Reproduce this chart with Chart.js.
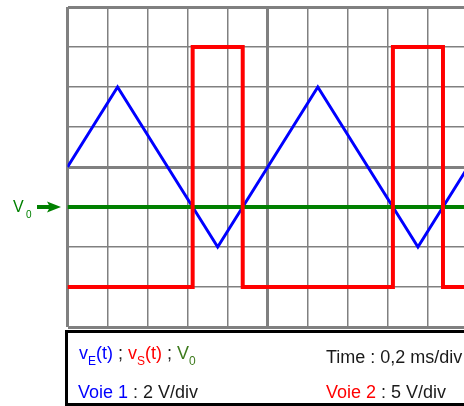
<!DOCTYPE html>
<html>
<head>
<meta charset="utf-8">
<script src="https://cdn.jsdelivr.net/npm/chart.js@4"></script>
<style>
  html, body { margin: 0; padding: 0; background: #ffffff; overflow: hidden; }
  #wrap { width: 464px; height: 406px; overflow: hidden; position: relative; }
  canvas { display: block; }
</style>
</head>
<body>
<div id="wrap"><canvas id="c" width="480" height="406"></canvas></div>
<script>
// ---- Data (time in ms, voltages in V) ----
const timeTicks = [0, 0.2, 0.4, 0.6, 0.8, 1.0, 1.2, 1.4, 1.6, 1.8, 2.0]; // 0,2 ms/div
const tE = [0, 0.25, 0.75, 1.25, 1.75, 2.0];          // vE(t) vertices
const vE = [0, 4, -4, 4, -4, 0];                       // Voie 1 (2 V/div)
const tS = [0, 0.625, 0.625, 0.875, 0.875, 1.625, 1.625, 1.875, 1.875, 2.0];
const vS = [-15, -15, 15, 15, -15, -15, 15, 15, -15, -15]; // Voie 2 (5 V/div)
const tV0 = [0, 2.0];
const V0 = [-2, -2];                                   // V0 on Voie 1
const ch1Range = [-8, 8];   // 8 div x 2 V/div
const ch2Range = [-20, 20]; // 8 div x 5 V/div

const BLUE = '#0000ff', RED = '#ff0000', GREEN = '#008000', OLIVE = '#3d7a1c', GRID = '#808080';

const pts = (xs, ys) => xs.map((x, i) => ({ x: x, y: ys[i] }));

const gridWidth = (c) => {
  const n = c.scale.ticks.length - 1;
  const mid = n / 2;
  return (c.index === 0 || c.index === n || c.index === mid) ? 3 : 1.5;
};

const overlay = {
  id: 'overlay',
  afterDraw(chart) {
    const ctx = chart.ctx;
    const y0 = chart.scales.y.getPixelForValue(V0[0]);
    ctx.save();
    // V0 label + arrow
    ctx.fillStyle = GREEN;
    ctx.strokeStyle = GREEN;
    ctx.font = '16px "Liberation Sans", Arial, sans-serif';
    ctx.textBaseline = 'alphabetic';
    ctx.fillText('V', 13, y0 + 5);
    ctx.font = '10px "Liberation Sans", Arial, sans-serif';
    ctx.fillText('0', 26, y0 + 11);
    ctx.lineWidth = 4;
    ctx.beginPath();
    ctx.moveTo(37, y0);
    ctx.lineTo(50, y0);
    ctx.stroke();
    ctx.beginPath();
    ctx.moveTo(47, y0 - 5.5);
    ctx.lineTo(61, y0);
    ctx.lineTo(47, y0 + 5.5);
    ctx.lineTo(50, y0);
    ctx.closePath();
    ctx.fill();

    // info box
    ctx.strokeStyle = '#000000';
    ctx.lineWidth = 3;
    ctx.strokeRect(66.5, 331.5, 500, 73);

    const main = '18px "Liberation Sans", Arial, sans-serif';
    const sub = '12px "Liberation Sans", Arial, sans-serif';
    const segs = [
      { t: 'v', c: BLUE }, { t: 'E', c: BLUE, s: 1 }, { t: '(t)', c: BLUE },
      { t: ' ; ', c: '#1a1a1a' },
      { t: 'v', c: RED }, { t: 'S', c: RED, s: 1 }, { t: '(t)', c: RED },
      { t: ' ; ', c: '#1a1a1a' },
      { t: 'V', c: OLIVE }, { t: '0', c: OLIVE, s: 1 }
    ];
    let x = 79;
    const base1 = 359;
    segs.forEach(sg => {
      ctx.font = sg.s ? sub : main;
      ctx.fillStyle = sg.c;
      ctx.fillText(sg.t, x, sg.s ? base1 + 6 : base1);
      x += ctx.measureText(sg.t).width;
    });
    ctx.font = main;
    ctx.fillStyle = '#1a1a1a';
    ctx.fillText('Time : 0,2 ms/div', 326, 363);

    const base2 = 398;
    const drawRow = (xs, parts) => {
      let xx = xs;
      parts.forEach(p => {
        ctx.fillStyle = p.c;
        ctx.fillText(p.t, xx, base2);
        xx += ctx.measureText(p.t).width;
      });
    };
    drawRow(78, [{ t: 'Voie 1', c: BLUE }, { t: ' : 2 V/div', c: '#1a1a1a' }]);
    drawRow(326, [{ t: 'Voie 2', c: RED }, { t: ' : 5 V/div', c: '#1a1a1a' }]);
    ctx.restore();
  }
};

new Chart(document.getElementById('c'), {
  type: 'line',
  data: {
    datasets: [
      { label: 'vS(t)', data: pts(tS, vS), yAxisID: 'y2', borderColor: RED, borderWidth: 4 },
      { label: 'V0', data: pts(tV0, V0), yAxisID: 'y', borderColor: GREEN, borderWidth: 4 },
      { label: 'vE(t)', data: pts(tE, vE), yAxisID: 'y', borderColor: BLUE, borderWidth: 3 }
    ]
  },
  options: {
    responsive: false,
    animation: false,
    parsing: true,
    elements: {
      point: { radius: 0, hoverRadius: 0 },
      line: { tension: 0, fill: false, borderCapStyle: 'butt', borderJoinStyle: 'miter' }
    },
    layout: { padding: { left: 67.5, top: 7, right: 12, bottom: 79 } },
    plugins: { legend: { display: false }, tooltip: { enabled: false } },
    scales: {
      x: {
        type: 'linear',
        min: timeTicks[0],
        max: timeTicks[timeTicks.length - 1],
        afterBuildTicks: (s) => { s.ticks = timeTicks.map(v => ({ value: v })); },
        ticks: { display: false },
        grid: { color: GRID, lineWidth: gridWidth, drawTicks: false },
        border: { display: false }
      },
      y: {
        type: 'linear',
        min: ch1Range[0],
        max: ch1Range[1],
        ticks: { display: false, stepSize: 2 },
        grid: { color: GRID, lineWidth: gridWidth, drawTicks: false },
        border: { display: false }
      },
      y2: {
        type: 'linear',
        display: false,
        min: ch2Range[0],
        max: ch2Range[1]
      }
    }
  },
  plugins: [overlay]
});
</script>
</body>
</html>
